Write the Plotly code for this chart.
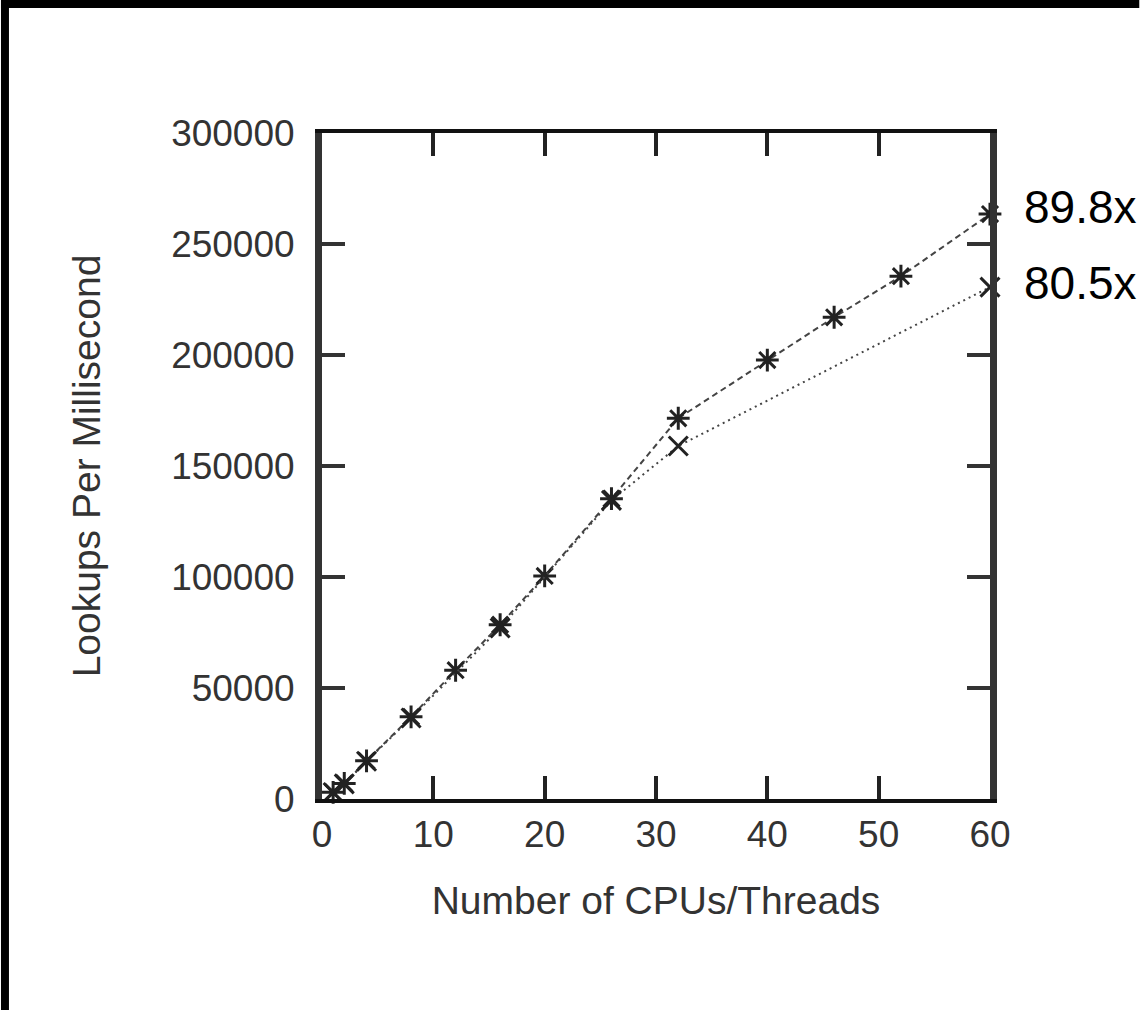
import plotly.graph_objects as go

# ---- data ----
cpus_a = [1, 2, 4, 8, 12, 16, 20, 26, 32, 40, 46, 52, 60]
lookups_a = [3000, 7000, 17200, 37000, 58000, 78500, 100500, 135300, 171500, 197700, 217000, 235500, 263500]
cpus_b = [1, 2, 4, 8, 16, 26, 32, 60]
lookups_b = [2900, 6800, 17000, 36500, 77000, 134500, 159000, 230600]
speedup_labels = ["89.8x", "80.5x"]
x_ticks = [0, 10, 20, 30, 40, 50, 60]
y_ticks = [0, 50000, 100000, 150000, 200000, 250000, 300000]

W, H = 1140, 1010
L, R, T, B = 321.5, 149.5, 133, 211
pw, ph = W - L - R, H - T - B

fig = go.Figure()
fig.add_trace(go.Scatter(
    x=cpus_a, y=lookups_a, mode="lines+markers",
    line=dict(color="#444", width=2, dash="6px,4px"),
    marker=dict(symbol="asterisk-open", size=19, color="#222", line=dict(width=3, color="#222")),
    showlegend=False, cliponaxis=False))
fig.add_trace(go.Scatter(
    x=cpus_b, y=lookups_b, mode="lines+markers",
    line=dict(color="#444", width=2, dash="2px,4px"),
    marker=dict(symbol="x-thin-open", size=19, color="#222", line=dict(width=3, color="#222")),
    showlegend=False, cliponaxis=False))

fig.add_annotation(x=cpus_a[-1], y=lookups_a[-1], xref="x", yref="y", text=speedup_labels[0],
                   showarrow=False, xanchor="left", yanchor="middle", xshift=32, yshift=7,
                   font=dict(family="Liberation Sans, Arial", size=46, color="black"))
fig.add_annotation(x=cpus_b[-1], y=lookups_b[-1], xref="x", yref="y", text=speedup_labels[1],
                   showarrow=False, xanchor="left", yanchor="middle", xshift=32, yshift=4,
                   font=dict(family="Liberation Sans, Arial", size=46, color="black"))

# black border strips (top and left)
fig.add_shape(type="rect", xref="paper", yref="paper", layer="above",
              x0=-L / pw, x1=-(L - 8) / pw, y0=-B / ph, y1=(ph + T) / ph,
              fillcolor="black", line=dict(width=0))
fig.add_shape(type="rect", xref="paper", yref="paper", layer="above",
              x0=-L / pw, x1=(pw + R) / pw, y0=(ph + T - 8) / ph, y1=(ph + T) / ph,
              fillcolor="black", line=dict(width=0))

tickfont = dict(family="Liberation Sans, Arial", size=37, color="#333")
titlefont = dict(family="Liberation Sans, Arial", size=39, color="#333")

fig.update_layout(
    width=W, height=H,
    margin=dict(l=L, r=R, t=T, b=B, autoexpand=False),
    paper_bgcolor="white", plot_bgcolor="white",
    xaxis=dict(range=[0, 60], tickvals=x_ticks, ticks="inside", ticklen=23, tickwidth=4,
               tickcolor="#222", showline=True, linecolor="#111", linewidth=4, mirror="ticks",
               showgrid=False, zeroline=False, tickfont=tickfont, ticklabelstandoff=0,
               title=dict(text="Number of CPUs/Threads", font=titlefont, standoff=33)),
    yaxis=dict(range=[0, 300000], tickvals=y_ticks, ticktext=[str(v) for v in y_ticks],
               ticks="inside", ticklen=23, tickwidth=4,
               tickcolor="#333", showline=True, linecolor="#333", linewidth=7, mirror="ticks",
               showgrid=False, zeroline=False, tickfont=tickfont, ticklabelstandoff=13,
               title=dict(text="Lookups Per Millisecond", font=titlefont, standoff=61)),
)

fig.write_html("out.html", config={"displayModeBar": False},
               post_script="document.body.style.margin='0';")
